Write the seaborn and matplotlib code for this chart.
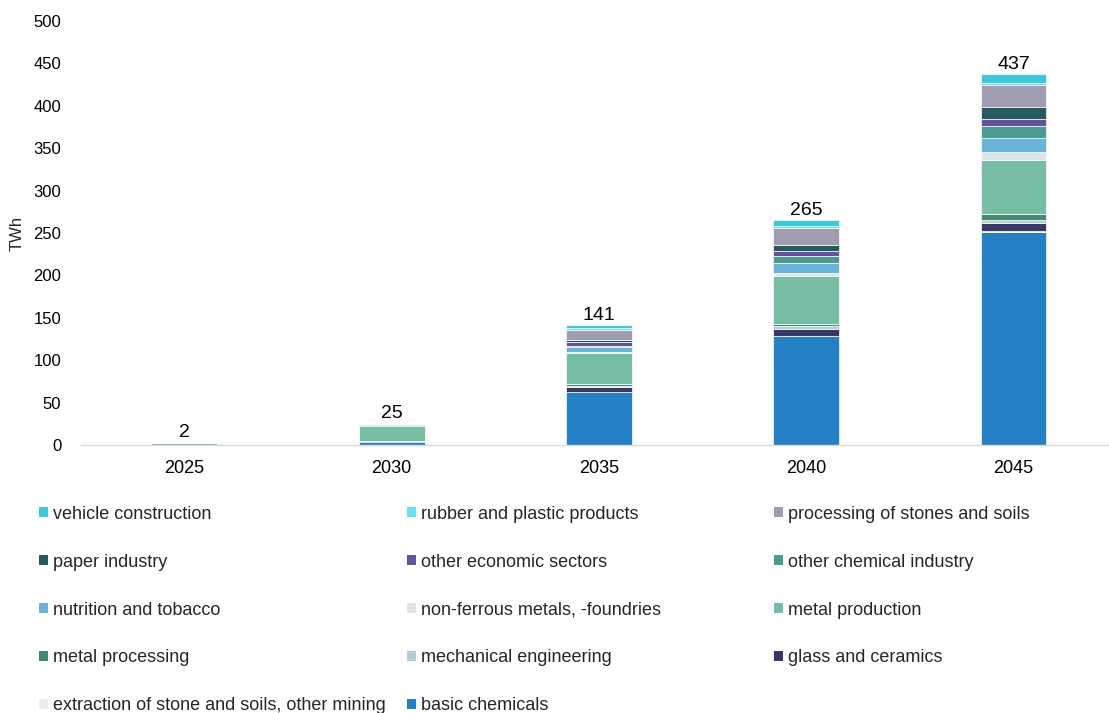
import numpy as np
import pandas as pd
import matplotlib
matplotlib.use("Agg")
import matplotlib.pyplot as plt
from matplotlib.patches import Patch
import seaborn as sns

years = ["2025", "2030", "2035", "2040", "2045"]

# Sectors listed from the bottom of each stack to the top
sectors = [
    "basic chemicals",
    "extraction of stone and soils, other mining",
    "glass and ceramics",
    "mechanical engineering",
    "metal processing",
    "metal production",
    "non-ferrous metals, -foundries",
    "nutrition and tobacco",
    "other chemical industry",
    "other economic sectors",
    "paper industry",
    "processing of stones and soils",
    "rubber and plastic products",
    "vehicle construction",
]

basic_chemicals = [0.3, 4.0, 62, 128, 251]
extraction_mining = [0.0, 0.0, 1, 1, 1]
glass_ceramics = [0.0, 0.5, 5, 8, 10]
mechanical_engineering = [0.0, 0.1, 2, 3, 3]
metal_processing = [0.1, 0.4, 2, 3, 7]
metal_production = [1.6, 17.6, 36, 56, 64]
non_ferrous = [0.0, 0.2, 2, 4, 9]
nutrition_tobacco = [0.0, 0.4, 5, 11, 17]
other_chemical = [0.0, 0.3, 2, 9, 14]
other_economic = [0.0, 0.3, 4, 6, 9]
paper_industry = [0.1, 1.0, 3, 7, 14]
stones_soils = [0.0, 0.0, 12, 20, 25]
rubber_plastic = [0.0, 0.0, 2, 2, 3]
vehicle_construction = [0.0, 0.2, 3, 7, 10]

series = [
    basic_chemicals, extraction_mining, glass_ceramics, mechanical_engineering,
    metal_processing, metal_production, non_ferrous, nutrition_tobacco,
    other_chemical, other_economic, paper_industry, stones_soils,
    rubber_plastic, vehicle_construction,
]

colors = [
    "#2680C6", "#EDEDED", "#383865", "#B4CCD4", "#468870", "#76BDA4",
    "#DCE4EC", "#68B3D6", "#4A9A8E", "#64529A", "#245A60", "#A09CB0",
    "#6CDDEE", "#3EC6DA",
]

sns.set_style("white")
plt.rcParams["font.family"] = ["Liberation Sans", "DejaVu Sans"]

fig = plt.figure(figsize=(11.09, 7.13), dpi=100)
ax = fig.add_axes([0.0728, 0.376, 0.9345, 0.5945])

bottom = np.zeros(len(years))
for name, vals, col in zip(sectors, series, colors):
    df = pd.DataFrame({"year": years, "value": vals})
    sns.barplot(data=df, x="year", y="value", bottom=bottom, color=col,
                width=0.318, errorbar=None, ax=ax, saturation=1,
                edgecolor="white", linewidth=0.5)
    bottom = bottom + np.array(vals, dtype=float)

# Totals above each stack
for i, total in enumerate(bottom):
    ax.text(i, total + 2, f"{round(total):.0f}", ha="center", va="bottom",
            fontsize=14, color="#000000")

ax.set_ylim(0, 500)
ax.set_xlim(-0.5, 4.5)
ax.set_yticks(np.arange(0, 501, 50))
ax.set_xlabel("")
ax.set_ylabel("TWh", fontsize=12, labelpad=6)
ax.tick_params(axis="both", length=0, colors="#000000")
ax.tick_params(axis="x", pad=11, labelsize=13)
ax.tick_params(axis="y", pad=14, labelsize=12)
for side in ["left", "right", "top"]:
    ax.spines[side].set_visible(False)
ax.spines["bottom"].set_color("#D9D9D9")
ax.spines["bottom"].set_linewidth(1)

# Legend: top of stack first, read row by row across three fixed columns
order = list(range(len(sectors)))[::-1]
handles = [Patch(facecolor=colors[k], edgecolor="none", label=sectors[k]) for k in order]
ncol = 3
col_x = [0.0287, 0.3605, 0.6914]
for c in range(ncol):
    col_handles = handles[c::ncol]
    fig.legend(handles=col_handles, loc="upper left",
               bbox_to_anchor=(col_x[c], 0.3008), ncol=1, frameon=False,
               fontsize=13, handlelength=0.5, handleheight=0.5,
               handletextpad=0.3, labelspacing=1.71, borderaxespad=0)

fig.savefig("out.png", dpi=100)
